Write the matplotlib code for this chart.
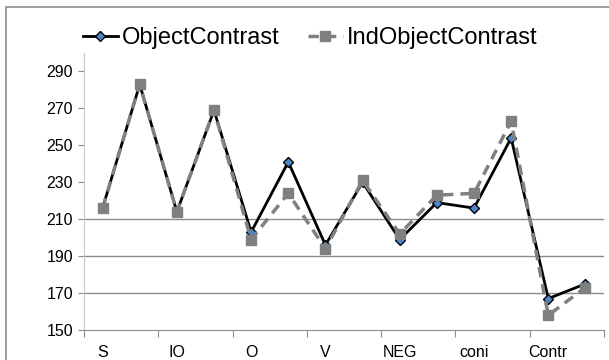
import matplotlib
matplotlib.use("Agg")
import matplotlib.pyplot as plt
from matplotlib.patches import Rectangle
import numpy as np

plt.rcParams['font.family'] = ['Liberation Sans', 'DejaVu Sans']

category_labels = ["S", "IO", "O", "V", "NEG", "coni", "Contr"]
object_contrast = [216, 283, 214, 269, 203, 241, 196, 230, 199, 219, 216, 254, 167, 175]
ind_object_contrast = [216, 283, 214, 269, 199, 224, 194, 231, 202, 223, 224, 263, 158, 173]
y_ticks = [150, 170, 190, 210, 230, 250, 270, 290]
grid_values = [170, 190, 210]

fig = plt.figure(figsize=(6.09, 3.6), dpi=100)
ax = fig.add_axes([84/609, 30/360, (604-84)/609, (330-53)/360])

x = np.arange(len(object_contrast))
ax.plot(x, object_contrast, color='black', lw=2, marker='D', ms=5.5,
        mfc='#4a86c8', mec='black', mew=1, label='ObjectContrast', zorder=3)
ax.plot(x, ind_object_contrast, color='#808080', lw=2.5, ls=(0, (3, 2)), marker='s', ms=7,
        mfc='#808080', mec='#808080', label='IndObjectContrast', zorder=4)

ax.set_xlim(-0.5, len(object_contrast) - 0.5)
ax.set_ylim(150, 300)
for g in grid_values:
    ax.axhline(g, color='#8c8c8c', lw=1, zorder=1)

ax.set_yticks(y_ticks)
ax.set_yticklabels([str(v) for v in y_ticks])
ax.set_xticks(np.arange(-0.5, len(object_contrast), 2))
ax.set_xticklabels([])
ax.set_xticks(np.arange(0, len(object_contrast), 2), minor=True)
ax.set_xticklabels(category_labels, minor=True)
ax.tick_params(axis='x', which='major', length=5, color='#8c8c8c', direction='out')
ax.tick_params(axis='x', which='minor', length=0, pad=11, labelsize=11.5)
ax.tick_params(axis='y', length=4, color='#8c8c8c', labelsize=11.5, pad=4)

for s in ['top', 'right']:
    ax.spines[s].set_visible(False)
ax.spines['left'].set_color('#c8c8c8')
ax.spines['bottom'].set_color('#8c8c8c')

fig.legend(loc='center', bbox_to_anchor=(310/609, 1 - 38/360), ncol=2, frameon=False,
           fontsize=17, handlelength=1.5, handletextpad=0.15, columnspacing=1.2)

fig.patches.append(Rectangle((6/609, -0.1), 1.2, 1 - 7/360 + 0.1, transform=fig.transFigure,
                             fill=False, edgecolor='#8c8c8c', lw=1.2))

fig.savefig('out.png', dpi=100)
